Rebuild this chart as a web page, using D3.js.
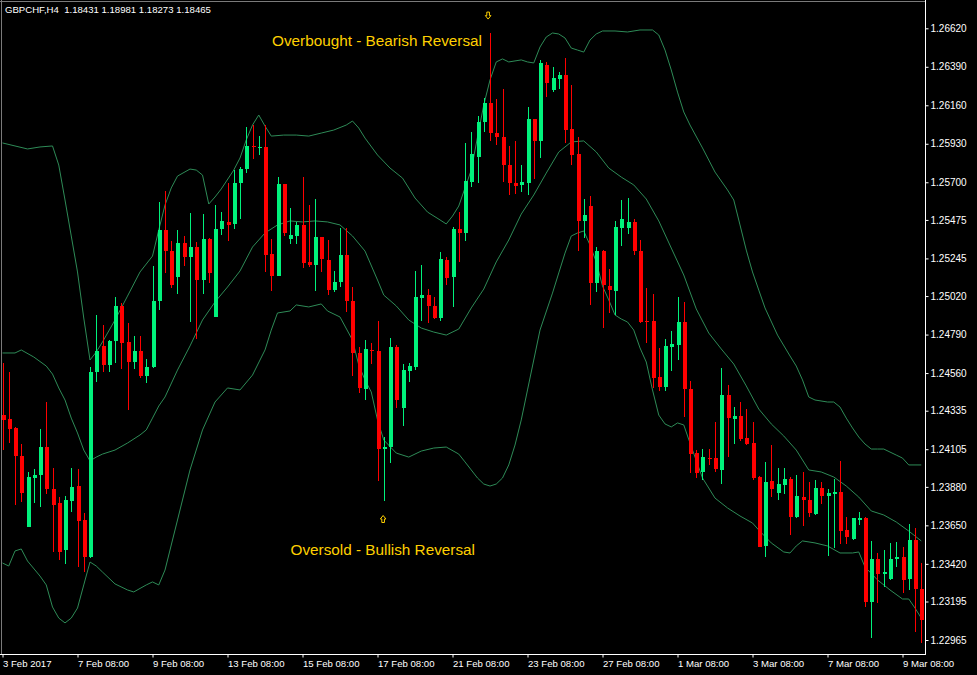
<!DOCTYPE html>
<html><head><meta charset="utf-8">
<script src="https://cdn.jsdelivr.net/npm/d3@7"></script>
<style>html,body{margin:0;padding:0;background:#000;overflow:hidden}</style>
</head><body>
<svg id="c" width="977" height="675"></svg>
<script>
const headerText = "GBPCHF,H4  1.18431 1.18981 1.18273 1.18465";

const opens = [1.24309,1.24286,1.24230,1.24066,1.23641,1.23935,1.23951,1.24119,1.23867,1.23782,
1.23503,1.23796,1.23885,1.23684,1.23459,1.24565,1.24723,1.24608,1.24752,1.24962,
1.24747,1.24627,1.24692,1.24544,1.24594,1.24992,1.25415,1.25291,1.25136,1.25335,
1.25255,1.25315,1.25116,1.25359,1.24897,1.25419,1.25463,1.25451,1.25694,1.25777,
1.25918,1.25906,1.25912,1.25270,1.25142,1.25690,1.25361,1.25379,1.25445,1.25225,
1.25206,1.25371,1.25236,1.25056,1.25105,1.25265,1.24991,1.24682,1.24465,1.24698,
1.24692,1.24104,1.24120,1.24714,1.24349,1.24574,1.24598,1.25010,1.25026,1.24961,
1.24887,1.25236,1.25136,1.25419,1.25395,1.25703,1.25852,1.26058,1.26176,1.25996,
1.25968,1.25803,1.25697,1.25684,1.25697,1.26076,1.25944,1.26401,1.26251,1.26317,
1.26341,1.26018,1.25869,1.25469,1.25558,1.25100,1.25289,1.25080,1.25052,1.25429,
1.25429,1.25461,1.25289,1.24871,1.24871,1.24535,1.24479,1.24714,1.24726,1.24867,
1.24465,1.24081,1.23971,1.24054,1.24054,1.23981,1.24429,1.24287,1.24303,1.24174,
1.24140,1.23941,1.23527,1.23913,1.23844,1.23891,1.23927,1.23702,1.23821,1.23802,
1.23716,1.23875,1.23827,1.23837,1.23848,1.23625,1.23570,1.23682,1.23696,1.23194,
1.23449,1.23359,1.23330,1.23447,1.23459,1.23330,1.23563,1.23268];

const highs = [1.24618,1.24568,1.24240,1.24136,1.23971,1.23987,1.24226,1.24387,1.23991,1.23818,
1.23825,1.23995,1.23987,1.23724,1.24594,1.24909,1.24847,1.24757,1.25016,1.24977,
1.24861,1.24781,1.24781,1.24642,1.25200,1.25580,1.25648,1.25349,1.25415,1.25379,
1.25515,1.25345,1.25510,1.25365,1.25566,1.25524,1.25694,1.25773,1.25793,1.26028,
1.26042,1.25976,1.26042,1.25359,1.25730,1.25692,1.25548,1.25464,1.25733,1.25564,
1.25600,1.25375,1.25354,1.25169,1.25425,1.25425,1.25073,1.24718,1.24758,1.24738,
1.24871,1.24180,1.24771,1.24726,1.24612,1.24622,1.25168,1.25204,1.25062,1.25016,
1.25285,1.25252,1.25435,1.25524,1.25933,1.26002,1.26096,1.26202,1.26590,1.26196,
1.26255,1.25915,1.25944,1.25803,1.26148,1.26078,1.26431,1.26420,1.26391,1.26361,
1.26441,1.26281,1.25968,1.25598,1.25618,1.25315,1.25295,1.25180,1.25469,1.25594,
1.25604,1.25479,1.25354,1.25070,1.25032,1.24712,1.24762,1.24811,1.25013,1.24986,
1.24513,1.24100,1.24104,1.24108,1.24266,1.24588,1.24487,1.24359,1.24389,1.24347,
1.24269,1.23945,1.24031,1.24130,1.23995,1.23991,1.23941,1.23951,1.23967,1.23907,
1.23921,1.23907,1.23865,1.23927,1.24037,1.23699,1.23693,1.23728,1.23698,1.23557,
1.23483,1.23503,1.23543,1.23549,1.23519,1.23656,1.23634,1.23423];

const lows = [1.24100,1.24144,1.23772,1.23791,1.23641,1.23785,1.23762,1.23839,1.23492,1.23443,
1.23417,1.23728,1.23399,1.23370,1.23453,1.24508,1.24565,1.24565,1.24618,1.24582,
1.24339,1.24582,1.24531,1.24502,1.24590,1.24937,1.25156,1.25070,1.25032,1.25200,
1.24867,1.24762,1.25032,1.25100,1.24895,1.25385,1.25351,1.25423,1.25481,1.25757,
1.25837,1.25863,1.25166,1.25050,1.25140,1.25379,1.25331,1.25331,1.25186,1.25192,
1.25052,1.25162,1.25026,1.25046,1.25076,1.24927,1.24542,1.24443,1.24399,1.24612,
1.23915,1.23796,1.24021,1.24349,1.24244,1.24504,1.24578,1.24871,1.24861,1.24881,
1.24873,1.25086,1.24957,1.25225,1.25351,1.25673,1.25697,1.26002,1.25947,1.25923,
1.25703,1.25624,1.25628,1.25644,1.25624,1.25718,1.25843,1.26211,1.26241,1.26257,
1.25936,1.25803,1.25289,1.25369,1.24967,1.25046,1.24827,1.24917,1.24907,1.25321,
1.25391,1.25265,1.24857,1.24738,1.24469,1.24455,1.24455,1.24574,1.24638,1.24299,
1.23961,1.23933,1.23921,1.24011,1.23971,1.23897,1.24058,1.24136,1.24157,1.24130,
1.23921,1.23520,1.23463,1.23821,1.23802,1.23837,1.23592,1.23692,1.23646,1.23702,
1.23712,1.23778,1.23469,1.23513,1.23537,1.23539,1.23565,1.23652,1.23164,1.22975,
1.23184,1.23280,1.23324,1.23403,1.23244,1.23264,1.23015,1.22945];

const closes = [1.24280,1.24226,1.24066,1.23845,1.23939,1.23953,1.24119,1.23865,1.23772,1.23492,
1.23802,1.23879,1.23678,1.23463,1.24565,1.24692,1.24608,1.24752,1.24962,1.24741,
1.24627,1.24692,1.24544,1.24594,1.24992,1.25415,1.25289,1.25086,1.25335,1.25255,
1.25315,1.25116,1.25361,1.25156,1.25421,1.25469,1.25445,1.25697,1.25779,1.25917,
1.25911,1.25912,1.25265,1.25142,1.25690,1.25395,1.25385,1.25445,1.25219,1.25206,
1.25371,1.25242,1.25056,1.25104,1.25265,1.24991,1.24682,1.24469,1.24704,1.24692,
1.24104,1.24120,1.24714,1.24399,1.24578,1.24602,1.25013,1.25026,1.24961,1.24887,
1.25242,1.25130,1.25419,1.25395,1.25708,1.25867,1.26058,1.26176,1.25996,1.25968,
1.25803,1.25694,1.25680,1.25703,1.26076,1.25944,1.26414,1.26291,1.26321,1.26341,
1.26012,1.25863,1.25469,1.25504,1.25100,1.25289,1.25086,1.25056,1.25435,1.25479,
1.25461,1.25289,1.24863,1.24865,1.24529,1.24479,1.24723,1.24734,1.24867,1.24465,
1.24076,1.23965,1.24057,1.24048,1.23985,1.24429,1.24293,1.24303,1.24164,1.24136,
1.23935,1.23523,1.23907,1.23865,1.23899,1.23927,1.23702,1.23825,1.23802,1.23726,
1.23875,1.23825,1.23842,1.23848,1.23616,1.23579,1.23691,1.23696,1.23194,1.23449,
1.23358,1.23373,1.23449,1.23459,1.23324,1.23563,1.23268,1.23085];

// Bollinger bands: [bar index, price]
const upperBand = [[0,1.25935],[2,1.25917],[4,1.25899],[6,1.25911],[8,1.25917],[9,1.25803],[10,1.25594],[11,1.25379],[12,1.25164],[13,1.24889],[14,1.24638],[15,1.24686],[16,1.24746],[18,1.24877],[20,1.25020],[22,1.25164],[24,1.25259],[25,1.25415],[26,1.25564],[27,1.25666],[28,1.25737],[30,1.25779],[31,1.25773],[32,1.25743],[33,1.25570],[34,1.25612],[35,1.25660],[37,1.25773],[38,1.25845],[39,1.25953],[40,1.26042],[41,1.26102],[42,1.26036],[43,1.25976],[45,1.25982],[47,1.25982],[49,1.25976],[51,1.25994],[53,1.26012],[55,1.26042],[56,1.26066],[57,1.26024],[58,1.25964],[60,1.25863],[62,1.25785],[64,1.25725],[66,1.25606],[68,1.25522],[70,1.25475],[71,1.25451],[72,1.25498],[73,1.25558],[74,1.25666],[75,1.25773],[76,1.25970],[77,1.26162],[78,1.26311],[79,1.26419],[80,1.26437],[81,1.26419],[82,1.26425],[83,1.26431],[84,1.26419],[85,1.26413],[86,1.26508],[87,1.26568],[88,1.26592],[89,1.26586],[90,1.26562],[91,1.26502],[92,1.26490],[93,1.26478],[94,1.26550],[95,1.26586],[96,1.26604],[98,1.26604],[100,1.26598],[102,1.26610],[104,1.26610],[105,1.26580],[106,1.26490],[107,1.26371],[108,1.26239],[109,1.26120],[110,1.26042],[112,1.25905],[114,1.25761],[116,1.25654],[117,1.25594],[118,1.25445],[119,1.25295],[120,1.25164],[121,1.25056],[122,1.24949],[124,1.24787],[126,1.24662],[127,1.24602],[128,1.24519],[129,1.24417],[130,1.24399],[132,1.24387],[133,1.24387],[134,1.24357],[135,1.24291],[136,1.24232],[137,1.24178],[138,1.24136],[139,1.24106],[140,1.24106],[141,1.24106],[142,1.24088],[143,1.24070],[144,1.24052],[145,1.24011],[146,1.24011],[147,1.24011]];

const middleBand = [[0,1.24680],[2,1.24680],[3,1.24698],[5,1.24656],[7,1.24602],[8,1.24554],[9,1.24471],[10,1.24399],[11,1.24291],[12,1.24202],[13,1.24100],[14,1.24035],[15,1.24058],[16,1.24076],[18,1.24100],[20,1.24142],[22,1.24190],[23,1.24220],[24,1.24291],[25,1.24363],[26,1.24417],[28,1.24578],[30,1.24722],[32,1.24877],[34,1.24985],[36,1.25074],[38,1.25170],[40,1.25313],[42,1.25397],[44,1.25445],[46,1.25469],[48,1.25463],[50,1.25469],[52,1.25463],[54,1.25445],[56,1.25379],[58,1.25289],[60,1.25116],[61,1.25026],[63,1.24961],[65,1.24877],[67,1.24829],[69,1.24805],[71,1.24787],[73,1.24823],[75,1.24949],[77,1.25062],[79,1.25224],[81,1.25355],[83,1.25510],[85,1.25624],[87,1.25755],[89,1.25881],[91,1.25941],[93,1.25947],[95,1.25881],[97,1.25785],[99,1.25731],[101,1.25684],[103,1.25600],[105,1.25469],[107,1.25307],[109,1.25146],[111,1.24943],[113,1.24799],[115,1.24704],[117,1.24614],[119,1.24483],[121,1.24345],[123,1.24256],[125,1.24184],[127,1.24100],[129,1.23981],[131,1.23969],[133,1.23939],[135,1.23885],[137,1.23819],[139,1.23736],[141,1.23712],[143,1.23670],[145,1.23616],[147,1.23557]];

const lowerBand = [[0,1.23425],[1,1.23407],[2,1.23497],[3,1.23509],[4,1.23437],[6,1.23347],[7,1.23294],[8,1.23162],[9,1.23096],[10,1.23067],[11,1.23096],[12,1.23156],[13,1.23294],[14,1.23431],[15,1.23407],[16,1.23371],[18,1.23300],[20,1.23264],[21,1.23252],[23,1.23294],[24,1.23312],[25,1.23294],[26,1.23383],[28,1.23682],[30,1.23981],[32,1.24220],[34,1.24387],[36,1.24471],[38,1.24459],[40,1.24548],[42,1.24698],[43,1.24817],[44,1.24919],[46,1.24931],[47,1.24967],[49,1.24955],[51,1.24973],[52,1.24931],[54,1.24895],[56,1.24757],[57,1.24608],[58,1.24519],[59,1.24447],[60,1.24280],[61,1.24160],[63,1.24082],[65,1.24058],[67,1.24094],[69,1.24112],[71,1.24118],[73,1.24076],[74,1.24029],[75,1.23981],[76,1.23933],[77,1.23897],[78,1.23885],[79,1.23897],[80,1.23933],[81,1.24011],[82,1.24130],[83,1.24280],[84,1.24459],[85,1.24638],[86,1.24817],[88,1.25038],[89,1.25158],[90,1.25277],[91,1.25379],[92,1.25397],[93,1.25409],[94,1.25325],[95,1.25224],[96,1.25080],[97,1.24997],[98,1.24907],[99,1.24883],[100,1.24865],[101,1.24817],[102,1.24710],[103,1.24626],[104,1.24459],[105,1.24309],[106,1.24256],[107,1.24238],[108,1.24262],[109,1.24250],[110,1.24142],[112,1.23933],[114,1.23813],[116,1.23754],[118,1.23706],[120,1.23664],[121,1.23622],[123,1.23545],[125,1.23491],[126,1.23485],[127,1.23527],[128,1.23557],[130,1.23545],[132,1.23527],[134,1.23485],[136,1.23485],[137,1.23491],[138,1.23401],[140,1.23324],[142,1.23264],[144,1.23210],[145,1.23210],[146,1.23156],[147,1.23096]];

const priceTicks = [1.26620,1.26390,1.26160,1.25930,1.25700,1.25475,1.25245,1.25020,1.24790,1.24560,1.24335,1.24105,1.23880,1.23650,1.23420,1.23195,1.22965];
const dateTickIdx = [0,12,24,36,48,60,72,84,96,108,120,132,144];
const dateTickLabels = ["3 Feb 2017","7 Feb 08:00","9 Feb 08:00","13 Feb 08:00","15 Feb 08:00","17 Feb 08:00","21 Feb 08:00","23 Feb 08:00","27 Feb 08:00","1 Mar 08:00","3 Mar 08:00","7 Mar 08:00","9 Mar 08:00"];

const noteTexts = ["Overbought - Bearish Reversal","Oversold - Bullish Reversal"];
const noteIdx = [43.12, 46.08];
const notePrice = [1.26517, 1.23470];
const arrowDir = ["down","up"];
const arrowIdx = [77.7, 60.9];
const arrowPrice = [1.26696, 1.23688];

const BULL = "#00F27C", BEAR = "#FF0000", BAND = "#2E8B57", GOLD = "#FFD000";

const W = 977, H = 675;
const svg = d3.select("#c");
svg.append("rect").attr("width", W).attr("height", H).attr("fill", "#000");

const x = d3.scaleLinear().domain([0, 147]).range([2.5, 921.25]);
const y = d3.scaleLinear().domain([1.22965, 1.26620]).range([640, 28.3]);

svg.append("clipPath").attr("id", "clip").append("rect")
  .attr("x", 0).attr("y", 0).attr("width", 925).attr("height", 654);
const g = svg.append("g").attr("clip-path", "url(#clip)");

// bands
const line = d3.line().x(d => x(d[0])).y(d => y(d[1]));
[upperBand, middleBand, lowerBand].forEach(b => {
  g.append("path").attr("d", line(b)).attr("fill", "none")
    .attr("stroke", BAND).attr("stroke-width", 1);
});

// candles
const idx = d3.range(opens.length);
const col = i => closes[i] >= opens[i] ? BULL : BEAR;
const cg = g.append("g").attr("shape-rendering", "crispEdges");
cg.selectAll("line.wick").data(idx).join("line").attr("class", "wick")
  .attr("x1", i => Math.round(x(i)) + 0.5).attr("x2", i => Math.round(x(i)) + 0.5)
  .attr("y1", i => y(highs[i])).attr("y2", i => y(lows[i]))
  .attr("stroke", col).attr("stroke-width", 1);
cg.selectAll("rect.body").data(idx).join("rect").attr("class", "body")
  .attr("x", i => Math.round(x(i)) - 1.5).attr("width", 4)
  .attr("y", i => Math.min(y(opens[i]), y(closes[i])))
  .attr("height", i => Math.max(1, Math.abs(y(opens[i]) - y(closes[i]))))
  .attr("fill", col);

// annotations
noteTexts.forEach((t, k) => {
  g.append("text").attr("x", x(noteIdx[k])).attr("y", y(notePrice[k]))
    .attr("fill", GOLD).attr("font-family", "Liberation Sans, Arial, sans-serif")
    .attr("font-size", "15.3px").text(t);
});
arrowDir.forEach((d, k) => {
  const cx = x(arrowIdx[k]), cy = y(arrowPrice[k]);
  const s = d === "down" ? 1 : -1;
  const pts = [[-1.3,-3.5],[1.3,-3.5],[1.3,0],[2.8,0],[0,3.5],[-2.8,0],[-1.3,0]]
    .map(p => [cx + p[0], cy + s * p[1]]);
  g.append("path").attr("d", "M" + pts.map(p => p.join(",")).join("L") + "Z")
    .attr("fill", "none").attr("stroke", GOLD).attr("stroke-width", 1);
});

// frame
svg.append("line").attr("x1", 0).attr("x2", 925).attr("y1", 1.5).attr("y2", 1.5).attr("stroke", "#7a7a7a");
svg.append("line").attr("x1", 1.5).attr("x2", 1.5).attr("y1", 0).attr("y2", 654).attr("stroke", "#7a7a7a");
svg.append("line").attr("x1", 925.5).attr("x2", 925.5).attr("y1", 0).attr("y2", 655).attr("stroke", "#fff");
svg.append("line").attr("x1", 0).attr("x2", 926).attr("y1", 654.5).attr("y2", 654.5).attr("stroke", "#fff");

// right price axis
const ay = d3.axisRight(y).tickValues(priceTicks).tickFormat(d3.format(".5f")).tickSize(3).tickPadding(2);
const gy = svg.append("g").attr("transform", "translate(925.5,0)").call(ay);
gy.select(".domain").remove();
gy.selectAll(".tick line").attr("stroke", "#fff");
gy.selectAll(".tick text").attr("fill", "#fff").attr("x", 5)
  .attr("font-family", "Liberation Sans, Arial, sans-serif").attr("font-size", "10px");

// bottom time axis
const ax = d3.axisBottom(x).tickValues(dateTickIdx).tickFormat((d, k) => dateTickLabels[k]).tickSize(3);
const gx = svg.append("g").attr("transform", "translate(0,654.5)").call(ax);
gx.select(".domain").remove();
gx.selectAll(".tick line").attr("stroke", "#fff");
gx.selectAll(".tick text").attr("fill", "#fff").attr("text-anchor", "start")
  .attr("x", 0).attr("y", 12.5).attr("dy", null)
  .attr("font-family", "Liberation Sans, Arial, sans-serif").attr("font-size", "9.6px");

// header
svg.append("text").attr("x", 5).attr("y", 12.7).attr("fill", "#fff")
  .attr("font-family", "Liberation Sans, Arial, sans-serif").attr("font-size", "9.6px")
  .attr("xml:space", "preserve").style("white-space", "pre").text(headerText);
</script>
</body></html>
